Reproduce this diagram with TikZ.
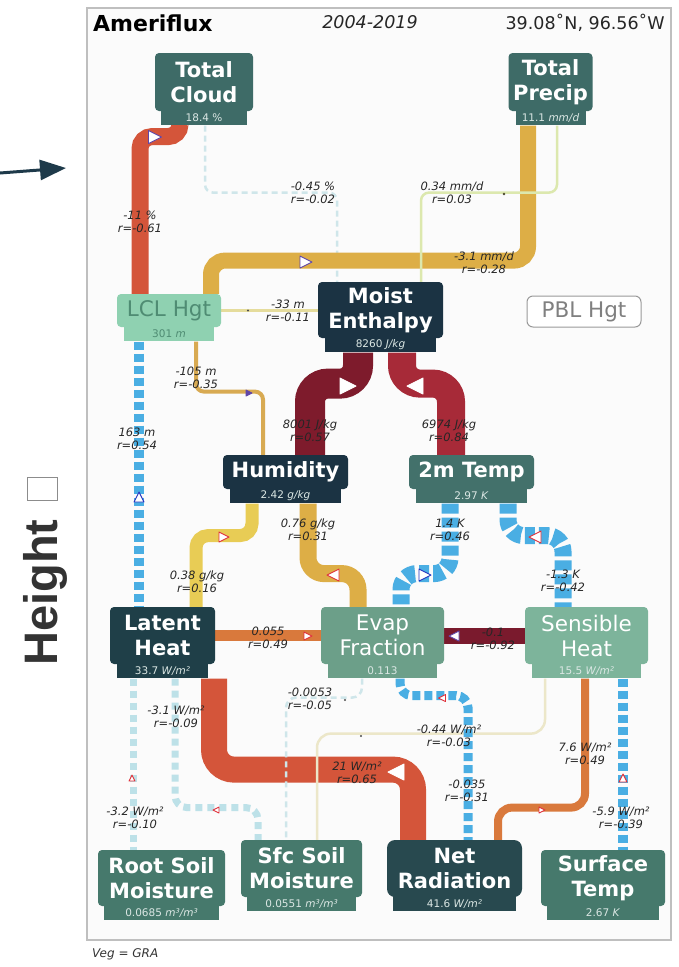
\documentclass[tikz,border=0pt]{standalone}
\usepackage{fontspec}
\setmainfont{DejaVu Sans}
\newfontfamily\headfont{Liberation Sans}
\usetikzlibrary{calc,arrows.meta}
\pgfdeclarelayer{frame}
\pgfdeclarelayer{flows}
\pgfsetlayers{frame,flows,main}

% node fills
\definecolor{nNavy}{HTML}{1B3343}
\definecolor{nLatent}{HTML}{1F3F48}
\definecolor{nNet}{HTML}{28494F}
\definecolor{nTeal}{HTML}{3E6B67}
\definecolor{nTealB}{HTML}{43716B}
\definecolor{nSoil}{HTML}{46796C}
\definecolor{nEvap}{HTML}{6C9F89}
\definecolor{nSens}{HTML}{7DB49B}
\definecolor{nLCL}{HTML}{8FD1B1}
\definecolor{tLCL}{HTML}{4F8C73}
\definecolor{tVal}{HTML}{DBE7E4}
% flow colours
\definecolor{cRed}{HTML}{D4553A}
\definecolor{cOrange}{HTML}{D9793C}
\definecolor{cGold}{HTML}{DDAE46}
\definecolor{cYellow}{HTML}{E8CC55}
\definecolor{cOchre}{HTML}{D8AA52}
\definecolor{cMaroon}{HTML}{7E1B2C}
\definecolor{cCrimson}{HTML}{A72A38}
\definecolor{cWine}{HTML}{7A1A2D}
\definecolor{cBlue}{HTML}{4AAEE3}
\definecolor{cLBlue}{HTML}{BDE1E8}
\definecolor{cPale}{HTML}{CFE6EA}
\definecolor{cLime}{HTML}{DCE8AE}
\definecolor{cStraw}{HTML}{E5DC9C}
\definecolor{cBeige}{HTML}{ECE7C9}
\definecolor{mkPurple}{HTML}{6046A8}
\definecolor{mkBlue}{HTML}{2434C0}
\definecolor{mkRed}{HTML}{E0303A}
\definecolor{arrowc}{HTML}{1E3A4A}

\tikzset{
  every node/.style={inner sep=0pt},
  boldbox/.style={rounded corners=4pt, align=center, text=white,
    font=\fontsize{21}{25}\selectfont\bfseries},
  plainbox/.style={rounded corners=4pt, align=center, text=white,
    font=\fontsize{21.5}{25}\selectfont},
  valstrip/.style={minimum height=15pt, anchor=north, text=tVal,
    font=\fontsize{10.5}{12}\selectfont},
  lbl/.style={font=\fontsize{11.5}{13}\selectfont\itshape, align=center, text=black!85},
  flow/.style={rounded corners=#1},
  bluedash/.style={draw=cBlue, dash pattern=on 9pt off 4pt},
  paledash/.style={draw=cLBlue, dash pattern=on 7pt off 5pt},
}

% small triangular direction marker: x, y, angle, size, style
\newcommand\flowmark[5]{%
  \filldraw[#5, line width=0.9pt, line join=round, shift={(#1,#2)}, rotate=#3, scale=#4]
    (0.5,0) -- (-0.5,0.5) -- (-0.5,-0.5) -- cycle;}

\begin{document}
\begin{tikzpicture}[x=1pt,y=-1pt]
\useasboundingbox (0,0) rectangle (679,967);

\begin{pgfonlayer}{frame}
  \draw[fill=black!1.5, draw=black!25, line width=1.2pt] (87,8) rectangle (671,940);
\end{pgfonlayer}

% header and footer
\node[anchor=base west, font=\fontsize{22}{22}\selectfont\bfseries] (ttl) at (93,31) {Ameriflux};
\node[anchor=base, font=\fontsize{17.5}{17.5}\selectfont\itshape, text=black!85] (yrs) at (370,28) {2004-2019};
\node[anchor=base east, font=\fontsize{17.5}{17.5}\selectfont, text=black!85] (loc) at (665,29) {39.08˚N, 96.56˚W};
\node[anchor=base west, font=\fontsize{12}{12}\selectfont\itshape, text=black!80] (veg) at (92,957) {Veg = GRA};

% side annotation
\coordinate (arrS) at (0,173);
\coordinate (arrE) at (66,168);
\draw[arrowc, line width=3pt, -{Triangle[length=26pt,width=20pt]}] (arrS) -- (arrE);
\node[rotate=90, anchor=base west, font=\headfont\fontsize{47}{47}\selectfont\bfseries, text=black!80] (hgt) at (57,666) {Height};
\draw[black!45, line width=1pt] (27,477) rectangle (57,500);

% variable boxes
\node[boldbox, fill=nTeal, minimum width=98pt, minimum height=58pt] (tc) at (204,82) {Total\\Cloud};
\node[valstrip, fill=nTeal, minimum width=86pt] (tcv) at ([yshift=1pt]tc.south) {18.4 \%};
\node[boldbox, fill=nTeal, minimum width=84pt, minimum height=58pt] (tp) at (550.5,82) {Total\\Precip};
\node[valstrip, fill=nTeal, minimum width=70pt] (tpv) at ([yshift=1pt]tp.south) {11.1 \textit{mm/d}};

\node[plainbox, fill=nLCL, text=tLCL, minimum width=104pt, minimum height=33pt] (lcl) at (169,310.5) {LCL Hgt};
\node[valstrip, fill=nLCL, text=tLCL, minimum width=90pt] (lclv) at ([yshift=1pt]lcl.south) {301 \textit{m}};
\node[boldbox, fill=nNavy, minimum width=125pt, minimum height=56pt] (me) at (380.5,310) {Moist\\Enthalpy};
\node[valstrip, fill=nNavy, minimum width=111pt] (mev) at ([yshift=1pt]me.south) {8260 \textit{J/kg}};
\node[plainbox, draw=black!40, line width=1pt, fill=white, text=black!50, minimum width=114pt, minimum height=31pt, rounded corners=6pt] (pbl) at (584,311.5) {PBL Hgt};

\node[boldbox, fill=nNavy, minimum width=125pt, minimum height=34pt] (hu) at (285.5,472) {Humidity};
\node[valstrip, fill=nNavy, minimum width=111pt] (huv) at ([yshift=1pt]hu.south) {2.42 \textit{g/kg}};
\node[boldbox, fill=nTealB, minimum width=125pt, minimum height=34pt] (tt) at (471.5,472) {2m Temp};
\node[valstrip, fill=nTealB, minimum width=111pt] (ttv) at ([yshift=1pt]tt.south) {2.97 \textit{K}};

\node[boldbox, fill=nLatent, minimum width=105pt, minimum height=57pt] (lh) at (162.5,635.5) {Latent\\Heat};
\node[valstrip, fill=nLatent, minimum width=91pt] (lhv) at ([yshift=1pt]lh.south) {33.7 \textit{W/m²}};
\node[plainbox, fill=nEvap, minimum width=123pt, minimum height=57pt] (ef) at (382.5,635.5) {Evap\\Fraction};
\node[valstrip, fill=nEvap, minimum width=109pt] (efv) at ([yshift=1pt]ef.south) {0.113};
\node[plainbox, fill=nSens, minimum width=123pt, minimum height=57pt] (sh) at (586.5,635.5) {Sensible\\Heat};
\node[valstrip, fill=nSens, minimum width=109pt] (shv) at ([yshift=1pt]sh.south) {15.5 \textit{W/m²}};

\node[boldbox, fill=nSoil, minimum width=127pt, minimum height=56pt] (rs) at (161.5,878) {Root Soil\\Moisture};
\node[valstrip, fill=nSoil, minimum width=115pt] (rsv) at ([yshift=1pt]rs.south) {0.0685 \textit{m³/m³}};
\node[boldbox, fill=nSoil, minimum width=121pt, minimum height=57pt] (ss) at (301.5,868.5) {Sfc Soil\\Moisture};
\node[valstrip, fill=nSoil, minimum width=109pt] (ssv) at ([yshift=1pt]ss.south) {0.0551 \textit{m³/m³}};
\node[boldbox, fill=nNet, rounded corners=8pt, minimum width=135pt, minimum height=57pt] (nr) at (454.5,868.5) {Net\\Radiation};
\node[valstrip, fill=nNet, minimum width=123pt] (nrv) at ([yshift=1pt]nr.south) {41.6 \textit{W/m²}};
\node[boldbox, fill=nSoil, minimum width=124pt, minimum height=56pt] (st) at (603,878) {Surface\\Temp};
\node[valstrip, fill=nSoil, minimum width=112pt] (stv) at ([yshift=1pt]st.south) {2.67 \textit{K}};

\begin{pgfonlayer}{flows}
  % top row sources
  \draw[flow=12pt, draw=cRed, line width=17pt] ([xshift=-24pt]tcv.south) -- ++(0,11) -| ([xshift=-29pt]lcl.north);
  \flowmark{155}{137}{0}{13}{fill=white, draw=mkPurple}
  \draw[flow=8pt, draw=cPale, line width=2.5pt, dash pattern=on 6pt off 4pt] ([xshift=1pt]tcv.south) -- ++(0,67) -| ([xshift=-43.5pt]me.north);
  \draw[flow=14pt, draw=cGold, line width=16pt] ([xshift=-22.5pt]tpv.south) -- ++(0,135) -| ([xshift=42pt]lcl.north);
  \flowmark{306}{262}{0}{12}{fill=white, draw=mkPurple}
  \draw[flow=8pt, draw=cLime, line width=2.5pt] ([xshift=6.5pt]tpv.south) -- ++(0,67) -| ([xshift=40.5pt]me.north);
  \fill[black!60!olive] (504,194) circle (1.3);

  % LCL height and moist enthalpy
  \draw[draw=cStraw, line width=3pt] (lcl.east) -- (lcl.east -| me.west);
  \fill[black!70] (248,310.5) circle (1.2);
  \draw[bluedash, line width=10pt, dash pattern=on 8pt off 4pt] ([xshift=-30pt]lclv.south) -- ([xshift=-30pt]lclv.south |- lh.north);
  \flowmark{139}{497}{90}{10}{fill=white, draw=mkBlue}
  \draw[flow=8pt, draw=cOchre, line width=4pt] ([xshift=27pt]lclv.south) -- ++(0,50) -| ([xshift=-22.5pt]hu.north);
  \flowmark{249}{393}{0}{6}{fill=mkPurple, draw=mkPurple}
  \draw[flow=18pt, draw=cMaroon, line width=30pt] ([xshift=-22.5pt]mev.south) -- ++(0,31) -| ([xshift=24.5pt]hu.north);
  \flowmark{348}{386}{0}{16}{fill=white, draw=white}
  \draw[flow=18pt, draw=cCrimson, line width=28pt] ([xshift=21.5pt]mev.south) -- ++(0,31) -| ([xshift=-20.5pt]tt.north);
  \flowmark{415}{386}{180}{16}{fill=white, draw=white}

  % humidity and 2 m temperature
  \draw[flow=12pt, draw=cYellow, line width=13pt] ([xshift=-33.5pt]huv.south) -- ++(0,32) -| ([xshift=33.5pt]lh.north);
  \flowmark{224}{537}{0}{10}{fill=white, draw=mkRed}
  \draw[flow=16pt, draw=cGold, line width=17pt] ([xshift=22.5pt]huv.south) -- ++(0,70) -| ([xshift=-24.5pt]ef.north);
  \flowmark{333}{575}{180}{12}{fill=white, draw=mkRed}
  \draw[flow=16pt, bluedash, line width=17pt, dash pattern=on 10pt off 4pt] ([xshift=-21.5pt]ttv.south) -- ++(0,70) -| ([xshift=18.5pt]ef.north);
  \flowmark{425}{575}{0}{12}{fill=white, draw=mkBlue}
  \draw[flow=16pt, bluedash, line width=17pt, dash pattern=on 10pt off 4pt] ([xshift=36.5pt]ttv.south) -- ++(0,32) -| ([xshift=-23.5pt]sh.north);
  \flowmark{535}{537}{180}{12}{fill=white, draw=mkRed}

  % middle row
  \draw[draw=cOrange, line width=11pt] (lh.east) -- (lh.east -| ef.west);
  \flowmark{308}{636}{0}{8}{fill=white, draw=mkRed}
  \draw[draw=cWine, line width=16pt] (ef.east) -- (ef.east -| sh.west);
  \flowmark{454}{636}{180}{10}{fill=white, draw=mkPurple}

  % surface terms
  \draw[flow=20pt, draw=cRed, line width=26pt] ([xshift=51.5pt]lhv.south) -- ++(0,91) -| ([xshift=-41.5pt]nr.north);
  \flowmark{396}{772}{180}{16}{fill=white, draw=white}
  \draw[paledash, line width=7pt] ([xshift=-29.5pt]lhv.south) -- ([xshift=-29.5pt]lhv.south |- rs.north);
  \flowmark{132}{778}{90}{6}{fill=white, draw=mkRed}
  \draw[flow=12pt, paledash, line width=7pt] ([xshift=12.5pt]lhv.south) -- ++(0,129) -| ([xshift=-43.5pt]ss.north);
  \flowmark{216}{810}{180}{6}{fill=white, draw=mkRed}
  \draw[flow=10pt, draw=cPale, line width=2.5pt, dash pattern=on 6pt off 4pt] ([xshift=-20.5pt]efv.south) -- ++(0,19) -| ([xshift=-15.5pt]ss.north);
  \fill[black!70] (345,700) circle (1.2);
  \draw[flow=14pt, draw=cBeige, line width=2.5pt] ([xshift=-41.5pt]shv.south) -- ++(0,55) -| ([xshift=15.5pt]ss.north);
  \fill[black!70] (361,736) circle (1.2);
  \draw[flow=12pt, bluedash, line width=9pt, dash pattern=on 8pt off 4pt] ([xshift=17.5pt]efv.south) -- ++(0,17) -| ([xshift=13.5pt]nr.north);
  \flowmark{442}{698}{180}{7}{fill=white, draw=mkRed}
  \draw[flow=14pt, draw=cOrange, line width=8pt] ([xshift=-1.5pt]shv.south) -- ++(0,129) -| ([xshift=43.5pt]nr.north);
  \flowmark{542}{810}{0}{6}{fill=white, draw=mkRed}
  \draw[bluedash, line width=10pt, dash pattern=on 8pt off 4pt] ([xshift=36.5pt]shv.south) -- ([xshift=36.5pt]shv.south |- st.north);
  \flowmark{623}{778}{90}{8}{fill=white, draw=mkRed}
\end{pgfonlayer}

% flow labels
\node[lbl] (lA) at (140,222) {-11 \%\\r=-0.61};
\node[lbl] (lB) at (313,193) {-0.45 \%\\r=-0.02};
\node[lbl] (lC) at (484,263) {-3.1 mm/d\\r=-0.28};
\node[lbl] (lD) at (452,193) {0.34 mm/d\\r=0.03};
\node[lbl] (lE) at (288,311) {-33 m\\r=-0.11};
\node[lbl] (lF) at (137,439) {163 m\\r=0.54};
\node[lbl] (lG) at (196,378) {-105 m\\r=-0.35};
\node[lbl] (lH) at (310,431) {8001 J/kg\\r=0.57};
\node[lbl] (lI) at (449,431) {6974 J/kg\\r=0.84};
\node[lbl] (lJ) at (197,582) {0.38 g/kg\\r=0.16};
\node[lbl] (lK) at (308,530) {0.76 g/kg\\r=0.31};
\node[lbl] (lL) at (450,530) {1.4 K\\r=0.46};
\node[lbl] (lM) at (563,581) {-1.3 K\\r=-0.42};
\node[lbl] (lN) at (268,638) {0.055\\r=0.49};
\node[lbl] (lO) at (493,639) {-0.1\\r=-0.92};
\node[lbl] (lP) at (357,773) {21 W/m²\\r=0.65};
\node[lbl] (lQ) at (135,818) {-3.2 W/m²\\r=-0.10};
\node[lbl] (lR) at (176,717) {-3.1 W/m²\\r=-0.09};
\node[lbl] (lS) at (310,699) {-0.0053\\r=-0.05};
\node[lbl] (lT) at (449,736) {-0.44 W/m²\\r=-0.03};
\node[lbl] (lU) at (467,791) {-0.035\\r=-0.31};
\node[lbl] (lV) at (585,754) {7.6 W/m²\\r=0.49};
\node[lbl] (lW) at (621,818) {-5.9 W/m²\\r=-0.39};
\end{tikzpicture}
\end{document}
